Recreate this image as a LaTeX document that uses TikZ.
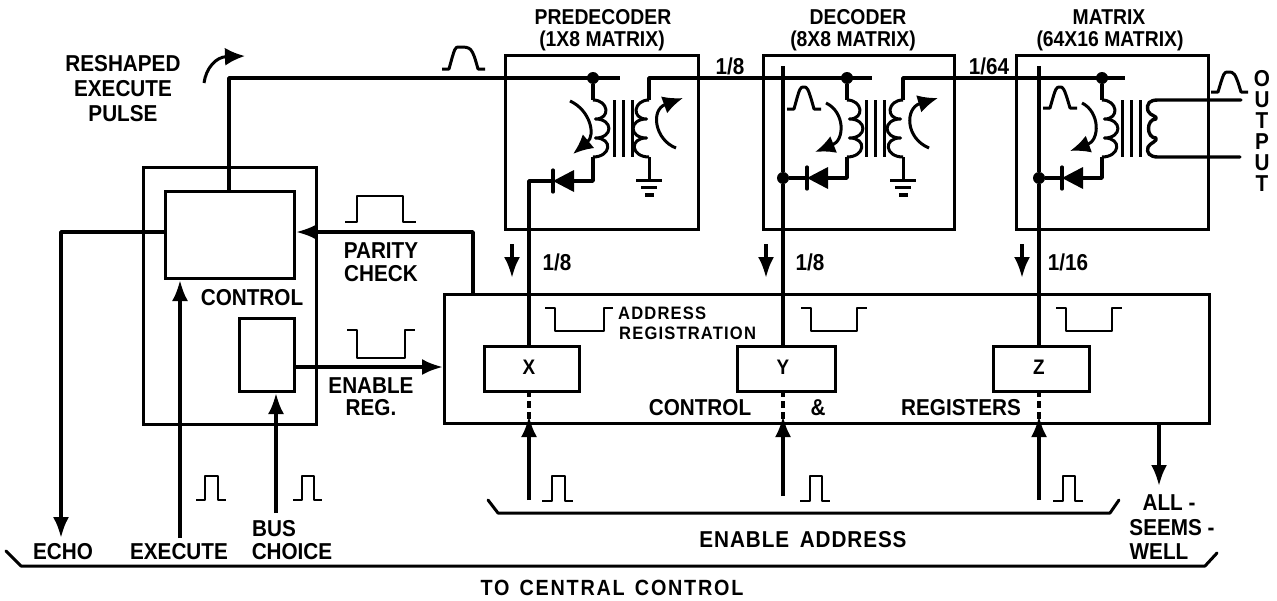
\documentclass[tikz,border=0pt]{standalone}
\usepackage{fontspec}
\usetikzlibrary{arrows.meta,calc}
\setmainfont{Liberation Sans}
\newfontfamily\labfont[FakeStretch=0.9]{Liberation Sans}
\newfontfamily\widefont[FakeStretch=0.9,LetterSpace=4,WordSpace=1.6]{Liberation Sans}
\newfontfamily\widerfont[FakeStretch=0.9,LetterSpace=8,WordSpace=1.4]{Liberation Sans}
\newfontfamily\smfont[FakeStretch=0.92,LetterSpace=6.5]{Liberation Sans}
\tikzset{
  lab/.style={font=\labfont\bfseries\fontsize{23}{25}\selectfont,inner sep=0pt,align=center},
  headlab/.style={font=\labfont\bfseries\fontsize{21.5}{22}\selectfont,inner sep=0pt,align=center},
  outlab/.style={font=\labfont\bfseries\fontsize{23}{21}\selectfont,inner sep=0pt,align=center},
  widelab/.style={font=\widefont\bfseries\fontsize{23}{25}\selectfont,inner sep=0pt,align=center},
  widerlab/.style={font=\widerfont\bfseries\fontsize{22}{22}\selectfont,inner sep=0pt,align=center},
  smlab/.style={font=\smfont\bfseries\fontsize{18}{20}\selectfont,inner sep=0pt,anchor=west},
  box/.style={draw,line width=3pt,inner sep=0pt,anchor=north west},
  wire/.style={line width=3.6pt,line join=round},
  thinwire/.style={line width=3pt,line join=round},
  pulse/.style={line width=2.2pt,line join=round},
  coilw/.style={line width=3pt,line join=round},
  arrowtip/.style={-{Latex[length=21pt,width=16pt]}},
  ctip/.style={-{Latex[length=20pt,width=18pt]}},
  dashlink/.style={line width=3.6pt,dash pattern=on 7pt off 4pt},
  dotj/.style={circle,fill,inner sep=0pt,minimum size=12pt},
}
% rounded pulse: start x, baseline y, end x, peak y
\newcommand{\rpulse}[4]{\draw[pulse,line width=3pt] (#1,#2) -- ++(7,0) .. controls ($(#1,#4)+(13,0)$) and ($(#1,#4)+(13,0)$) .. ($(#1,#4)+(17,0)$) .. controls ($(#3,#4)+(-14,0)$) and ($(#3,#4)+(-13,0)$) .. ($(#3,#2)+(-7,0)$) -- (#3,#2);}
% square pulse
\newcommand{\hpulse}[6]{\draw[pulse] (#1,#5) -- (#2,#5) -- (#2,#6) -- (#3,#6) -- (#3,#5) -- (#4,#5);}
% coil bumps to one side (#2 = +/- bulge)
\newcommand{\coil}[2]{\draw[coilw] (#1,100)
  .. controls +(#2*1.3,0) and +(#2*1.3,0) .. (#1+#2*.2,119)
  .. controls +(#2*1.5,0) and +(#2*1.5,0) .. (#1+#2*.2,138)
  .. controls +(#2*1.5,0) and +(#2*1.5,0) .. (#1,157);}
\newcommand{\core}[1]{\draw[line width=3pt] (#1,100) -- (#1,157) (#1+9,100) -- (#1+9,157) (#1+18,100) -- (#1+18,157);}
\newcommand{\ground}[1]{\draw[line width=3pt] (#1,157) -- (#1,180) (#1-13,180) -- (#1+13,180) (#1-8,187.5) -- (#1+8,187.5);\draw[line width=3.4pt] (#1-4,195) -- (#1+5,195);}
\newcommand{\diode}[2]{\fill (#1,#2) -- (#1+21,#2-11) -- (#1+21,#2+11) -- cycle;\draw[line width=3.2pt,line cap=round] (#1,#2-11) -- (#1,#2+11);}
\begin{document}
\begin{tikzpicture}[x=1pt,y=-1pt]
\useasboundingbox (0,0) rectangle (1277,600);
% boxes
\node[box,minimum width=173pt,minimum height=257pt] (ctrlouter) at (142,166) {};
\node[box,minimum width=129pt,minimum height=87pt] (ctrlinner) at (164,190) {};
\node[box,minimum width=55pt,minimum height=73pt] (enbox) at (238,317) {};
\node[box,minimum width=765pt,minimum height=129pt] (regs) at (443,293) {};
\node[box,minimum width=193pt,minimum height=174pt] (pre) at (504,54) {};
\node[box,minimum width=191pt,minimum height=174pt] (dec) at (762,54) {};
\node[box,minimum width=192pt,minimum height=174pt] (mat) at (1015,54) {};
\node[box,minimum width=95pt,minimum height=45pt] (xr) at (483,345) {};
\node[box,minimum width=98pt,minimum height=45pt] (yr) at (736,345) {};
\node[box,minimum width=96pt,minimum height=45pt] (zr) at (992,345) {};
\node[lab,font=\labfont\bfseries\fontsize{21}{21}\selectfont] at (529,367) {X};
\node[lab,font=\labfont\bfseries\fontsize{21}{21}\selectfont] at (783,367) {Y};
\node[lab,font=\labfont\bfseries\fontsize{21}{21}\selectfont] at (1039,367) {Z};
% named points
\coordinate (corner) at (229,78);
\coordinate (preEnd) at (620,78);
\coordinate (decStart) at (649,78);
\coordinate (decEnd) at (872,78);
\coordinate (matStart) at (903,78);
\coordinate (matEnd) at (1125,78);
\node[dotj] (j1) at (593,78) {};
\node[dotj] (j2) at (847,78) {};
\node[dotj] (j3) at (1102,78) {};
\node[dotj] (j4) at (783,178) {};
\node[dotj] (j5) at (1039,178) {};
% top bus
\draw[wire] (ctrlinner.north -| corner) -- (corner) -- (preEnd);
\draw[wire] (649,100) -- (decStart) -- (decEnd);
\draw[wire] (903,100) -- (matStart) -- (matEnd);
% coils
\draw[wire] (j1) -- (593,100);
\coil{593}{12}\coil{649}{-12}\core{614}
\draw[wire] (593,157) -- (593,181) -- (574,181);
\diode{553}{181}
\draw[wire] (553,181) -- (529,181) -- (529,345);
\ground{649}
\draw[wire] (j2) -- (847,100);
\coil{847}{12}\coil{903}{-12}\core{866}
\draw[wire] (847,157) -- (847,178) -- (828,178);
\diode{807}{178}
\draw[wire] (807,178) -- (j4);
\ground{903}
\draw[wire] (783,66) -- (j4) -- (783,345);
\draw[wire] (j3) -- (1102,100);
\coil{1102}{12}\core{1122}
\draw[wire] (1102,157) -- (1102,178) -- (1083,178);
\diode{1062}{178}
\draw[wire] (1062,178) -- (j5);
\draw[wire] (1039,66) -- (j5) -- (1039,345);
% output winding
\coordinate (o1) at (1241,100);
\coordinate (o2) at (1240,157);
\draw[coilw,line width=3.4pt,line cap=round] (o1) -- (1158,100) .. controls (1150,100) and (1146,103) .. (1148,111) .. controls (1150,116) and (1158,116) .. (1156,119)
  .. controls (1146,119) and (1146,138) .. (1156,138) .. controls (1158,141) and (1150,143) .. (1148,147) .. controls (1146,153) and (1150,157) .. (1158,157) -- (o2);
% dashed links
\draw[dashlink] (529,390) -- (529,422);
\draw[dashlink] (783,390) -- (783,422);
\draw[dashlink] (1039,390) -- (1039,422);
% inputs
\coordinate (ax) at (529,500);\coordinate (ay) at (783,496);\coordinate (az) at (1039,500);
\coordinate (axt) at (529,416);\coordinate (ayt) at (783,416);\coordinate (azt) at (1039,416);
\draw[wire,arrowtip] (ax) -- (axt);
\draw[wire,arrowtip] (ay) -- (ayt);
\draw[wire,arrowtip] (az) -- (azt);
% little down arrows
\coordinate (d1a) at (512,244);\coordinate (d1b) at (512,278);
\coordinate (d2a) at (766,244);\coordinate (d2b) at (766,278);
\coordinate (d3a) at (1022,244);\coordinate (d3b) at (1022,278);
\draw[wire,arrowtip] (d1a) -- (d1b);
\draw[wire,arrowtip] (d2a) -- (d2b);
\draw[wire,arrowtip] (d3a) -- (d3b);
% control connectors
\coordinate (echoEnd) at (61,538);\coordinate (echoC) at (61,232);
\draw[wire,arrowtip] (ctrlinner.west |- echoC) -- (echoC) -- (echoEnd);
\coordinate (exS) at (180,538);
\draw[wire,arrowtip] (exS) -- (exS |- ctrlinner.south);
\coordinate (buS) at (276,513);
\draw[wire,arrowtip] (buS) -- (buS |- enbox.south);
\coordinate (parC) at (473,232);
\draw[wire,arrowtip] (parC |- regs.north) -- (parC) -- (ctrlinner.east |- parC);
\coordinate (enC) at (293,367);
\draw[wire,arrowtip] (enC) -- (regs.west |- enC);
\coordinate (asS) at (1159,422);\coordinate (asE) at (1159,486);
\draw[wire,arrowtip] (asS) -- (asE);
% brackets
\coordinate (bA) at (6,551);\coordinate (bB) at (21,566);\coordinate (bC) at (1205,566);\coordinate (bD) at (1217,553);
\draw[thinwire,line cap=round] (bA) -- (bB) -- (bC) -- (bD);
\coordinate (eA) at (488,500);\coordinate (eB) at (498,513);\coordinate (eC) at (1110,513);\coordinate (eD) at (1119,500);
\draw[thinwire,line cap=round] (eA) -- (eB) -- (eC) -- (eD);
% curved arrows
\draw[line width=3pt,ctip] (204,83) .. controls (206,68) and (216,57) .. (245,56);
\draw[line width=3pt,ctip] (570,101) .. controls (590,110) and (596,135) .. (573,154);
\draw[line width=3pt,ctip] (676,148) .. controls (655,140) and (650,110) .. (683,98);
\draw[line width=3pt,ctip] (826,103) .. controls (845,112) and (845,140) .. (815,152);
\draw[line width=3pt,ctip] (929,148) .. controls (905,138) and (905,108) .. (938,98);
\draw[line width=3pt,ctip] (1082,103) .. controls (1100,112) and (1100,140) .. (1070,151);
% pulses
\rpulse{442}{69}{485}{47}
\rpulse{787}{109}{821}{87}
\rpulse{1043}{108}{1077}{87}
\rpulse{1211}{92}{1248}{72}
\hpulse{345}{357}{403}{416}{222}{196}
\hpulse{347}{357}{405}{415}{330}{358}
\hpulse{545}{555}{604}{613}{308}{331}
\hpulse{801}{811}{857}{867}{308}{331}
\hpulse{1056}{1066}{1112}{1122}{308}{331}
\hpulse{196}{205}{218}{226}{500}{476}
\hpulse{293}{302}{314}{322}{500}{476}
\hpulse{542}{552}{565}{573}{501}{476}
\hpulse{800}{810}{822}{830}{501}{476}
\hpulse{1053}{1063}{1075}{1083}{501}{476}
% labels
\node[lab] (t1) at (123,89) {RESHAPED\\EXECUTE\\PULSE};
\node[headlab] (t2) at (603,17.5) {PREDECODER};
\node[headlab] (t3) at (602,41) {(1X8 MATRIX)};
\node[headlab] (t4) at (858,17.5) {DECODER};
\node[headlab] (t5) at (853,41) {(8X8 MATRIX)};
\node[headlab] (t6) at (1109,17.5) {MATRIX};
\node[headlab] (t7) at (1110,41) {(64X16 MATRIX)};
\node[lab] (t8) at (730,66) {1/8};
\node[lab] (t9) at (989,66) {1/64};
\node[lab] (t10) at (557,262) {1/8};
\node[lab] (t11) at (810,262) {1/8};
\node[lab] (t12) at (1068,262) {1/16};
\node[lab] (t13) at (381,262) {PARITY\\[-2pt]CHECK};
\node[lab] (t14) at (252,298) {CONTROL};
\node[lab] (t15) at (371,397) {ENABLE\\[-3pt]REG.};
\node[smlab] (t16) at (618,313) {ADDRESS};
\node[smlab] (t17) at (619,333) {REGISTRATION};
\node[lab] (t18) at (700,408) {CONTROL};
\node[lab] (t19) at (818,408) {\&};
\node[lab] (t20) at (961,408) {REGISTERS};
\node[lab] (t21) at (63,552) {ECHO};
\node[lab] (t22) at (179,552) {EXECUTE};
\node[lab] (t23) at (274,529) {BUS};
\node[lab] (t24) at (292,552) {CHOICE};
\node[widelab] (t25) at (803,540) {ENABLE ADDRESS};
\node[widerlab] (t26) at (612,588) {TO CENTRAL CONTROL};
\node[lab] (t27) at (1169,503) {ALL -};
\node[lab] (t28) at (1172,528) {SEEMS -};
\node[lab] (t29) at (1159,552) {WELL};
\node[outlab] (t30) at (1262,130.5) {O\\U\\T\\P\\U\\T};
\end{tikzpicture}
\end{document}
